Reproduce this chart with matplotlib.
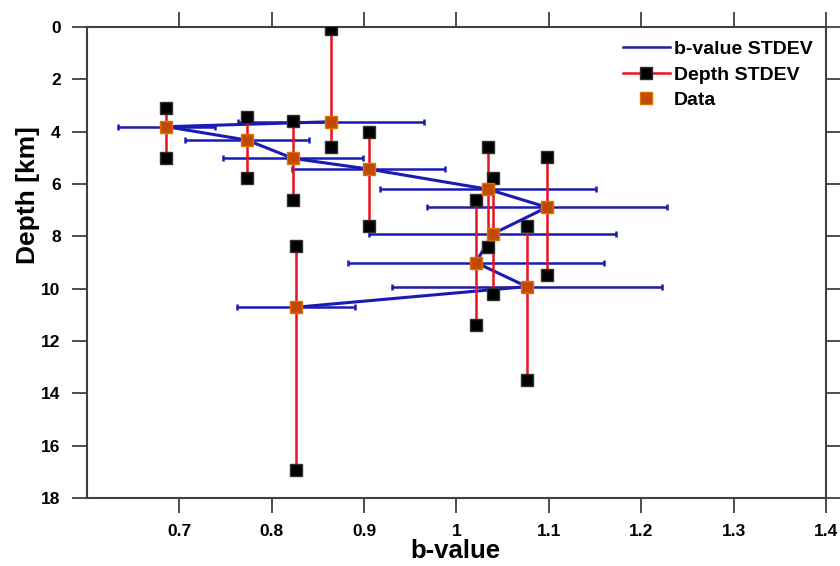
import matplotlib
matplotlib.use("Agg")
import matplotlib.pyplot as plt
from matplotlib.lines import Line2D
import numpy as np

plt.rcParams['font.family'] = ['Liberation Sans', 'DejaVu Sans']
plt.rcParams['font.weight'] = 'bold'

# b-value estimates per depth window (sorted by depth)
b_value = [0.864, 0.686, 0.773, 0.823, 0.905, 1.034, 1.098, 1.039, 1.021, 1.076, 0.826]
depth = [3.62, 3.81, 4.32, 5.02, 5.43, 6.20, 6.89, 7.91, 9.00, 9.92, 10.71]
b_std = [0.101, 0.053, 0.067, 0.076, 0.083, 0.117, 0.130, 0.134, 0.139, 0.146, 0.064]
depth_top = [0.08, 3.08, 3.43, 3.58, 4.00, 4.57, 4.98, 5.78, 6.61, 7.59, 8.37]
depth_bottom = [4.57, 4.99, 5.78, 6.61, 7.59, 8.39, 9.48, 10.21, 11.39, 13.49, 16.93]

x_ticks = [0.7, 0.8, 0.9, 1.0, 1.1, 1.2, 1.3, 1.4]
x_tick_labels = ['0.7', '0.8', '0.9', '1', '1.1', '1.2', '1.3', '1.4']
y_ticks = [0, 2, 4, 6, 8, 10, 12, 14, 16, 18]

BLUE = '#1a1ab4'
RED = '#e8141e'
ORANGE = '#c04a00'

fig = plt.figure(figsize=(8.4, 5.66), dpi=100)
ax = fig.add_axes([0.1036, 0.1201, 0.8797, 0.8322])

# horizontal b-value error bars with connecting line
ax.errorbar(b_value, depth, xerr=b_std, fmt='-', color=BLUE, lw=2.2,
            ecolor=BLUE, elinewidth=1.8, capsize=2.5, capthick=1.8, zorder=2)

# vertical depth ranges
b_arr = np.array(b_value)
ax.vlines(b_arr, depth_top, depth_bottom, color=RED, lw=1.8, zorder=3)
ax.plot(np.concatenate([b_arr, b_arr]), np.concatenate([depth_top, depth_bottom]),
        ls='none', marker='s', ms=8, mfc='black', mec='#303030', mew=1, zorder=4)

# data points
ax.plot(b_value, depth, ls='none', marker='s', ms=8, mfc=ORANGE, mec='#e07000',
        mew=1, zorder=5)

ax.set_xlim(0.6, 1.4)
ax.set_ylim(18, 0)
ax.set_xticks(x_ticks)
ax.set_xticklabels(x_tick_labels)
ax.set_yticks(y_ticks)

ax.tick_params(axis='both', which='major', direction='out', length=11, width=1.3,
               color='#404040', labelsize=12.5, pad=8)
ax.tick_params(axis='x', top=True, labeltop=False)
ax.tick_params(axis='y', right=True, labelright=False)
for lab in ax.get_xticklabels() + ax.get_yticklabels():
    lab.set_fontweight('bold')

for s in ax.spines.values():
    s.set_color('#404040')
    s.set_linewidth(1.5)

ax.set_xlabel('b-value', fontsize=18.5, fontweight='bold')
ax.xaxis.set_label_coords(0.498, -0.087)
ax.set_ylabel('Depth [km]', fontsize=19, fontweight='bold')
ax.yaxis.set_label_coords(-0.064, 0.643)

handles = [
    Line2D([], [], color=BLUE, lw=1.8),
    Line2D([], [], color=RED, lw=1.8, marker='s', ms=8, mfc='black', mec='#303030'),
    Line2D([], [], ls='none', marker='s', ms=8, mfc=ORANGE, mec='#e07000'),
]
ax.legend(handles, ['b-value STDEV', 'Depth STDEV', 'Data'], loc='upper right',
          frameon=False, prop={'weight': 'bold', 'size': 14}, handlelength=2.4,
          handletextpad=0.2, labelspacing=0.4, borderaxespad=0.3)

fig.savefig('out.png', dpi=100)
